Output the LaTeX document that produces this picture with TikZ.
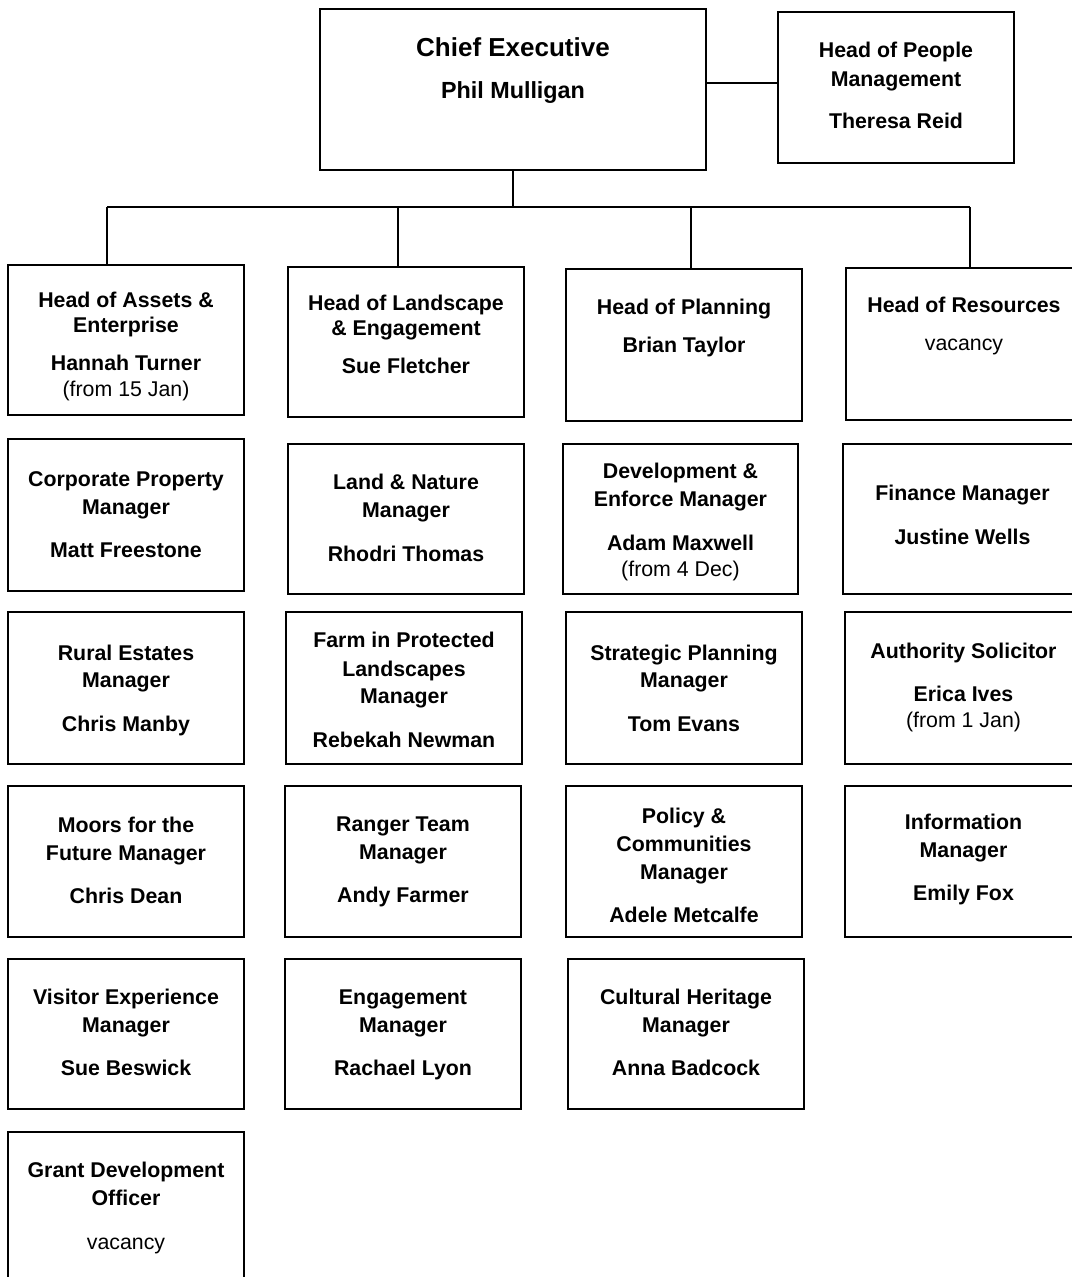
\documentclass[tikz,border=0pt]{standalone}
\usepackage{fontspec}
\setmainfont{Liberation Sans}
\tikzset{
  x=0.75pt, y=-0.75pt,
  orgbox/.style={draw=black, line width=1.1pt, inner sep=0pt, fill=white},
  boxtext/.style={anchor=north, align=center, inner sep=0pt, font=\fontsize{16}{21}\selectfont\bfseries},
  headtext/.style={anchor=north, align=center, inner sep=0pt, font=\fontsize{16}{18.75}\selectfont\bfseries},
  link/.style={draw=black, line width=1.1pt}
}
% name, x1, y1, x2, y2
\newcommand\orgframe[5]{%
  \node[orgbox, minimum width={(#4-#2)*0.75pt}, minimum height={(#5-#3)*0.75pt}]
    (#1) at ({(#2+#4)/2},{(#3+#5)/2}) {};}
% name, style, y top, text
\newcommand\orglabel[4]{%
  \node[#2] (#1-t) at ($(#1.north)+(0,#3)$) {#4};}
\usetikzlibrary{calc}
\begin{document}
\begin{tikzpicture}
\useasboundingbox (0,0) rectangle (1071,1277);
\fill[white] (0,0) rectangle (1071,1277);

% top
\orgframe{ceo}{320}{9}{706}{170}
\node[anchor=north, inner sep=0pt, font=\fontsize{19.5}{23}\selectfont\bfseries] (ceo-t) at ($(ceo.north)+(0,29)$) {Chief Executive};
\node[anchor=north, inner sep=0pt, font=\fontsize{17.5}{21}\selectfont\bfseries] (ceo-n) at ($(ceo.north)+(0,73)$) {Phil Mulligan};
\orgframe{hop}{778}{12}{1014}{163}
\node[anchor=north, align=center, inner sep=0pt, font=\fontsize{16}{21.75}\selectfont\bfseries] (hop-t) at ($(hop.north)+(0,31)$) {Head of People\\Management\\[9.75pt]Theresa Reid};

% heads
\orgframe{a1}{8}{265}{244}{415}
\orglabel{a1}{headtext}{28}{Head of Assets \&\\Enterprise\\[9.75pt]Hannah Turner\\[0.75pt]{\mdseries (from 15 Jan)}}
\orgframe{b1}{288}{267}{524}{417}
\orglabel{b1}{headtext}{29}{Head of Landscape\\\& Engagement\\[9.75pt]Sue Fletcher}
\orgframe{c1}{566}{269}{802}{421}
\orglabel{c1}{headtext}{31}{Head of Planning\\[9.75pt]Brian Taylor}
\orgframe{d1}{846}{268}{1082}{420}
\orglabel{d1}{headtext}{30}{Head of Resources\\[9.75pt]{\mdseries vacancy}}

% row 2
\orgframe{a2}{8}{439}{244}{591}
\orglabel{a2}{boxtext}{33}{Corporate Property\\Manager\\[11.5pt]Matt Freestone}
\orgframe{b2}{288}{444}{524}{594}
\orglabel{b2}{boxtext}{31}{Land \& Nature\\Manager\\[11.5pt]Rhodri Thomas}
\orgframe{c2}{563}{444}{798}{594}
\orglabel{c2}{boxtext}{20}{Development \&\\Enforce Manager\\[11.5pt]Adam Maxwell\\[-1.5pt]{\mdseries (from 4 Dec)}}
\orgframe{d2}{843}{444}{1082}{594}
\orglabel{d2}{boxtext}{42}{Finance Manager\\[11.5pt]Justine Wells}

% row 3
\orgframe{a3}{8}{612}{244}{764}
\orglabel{a3}{boxtext}{33}{Rural Estates\\Manager\\[11.5pt]Chris Manby}
\orgframe{b3}{286}{612}{522}{764}
\orglabel{b3}{boxtext}{21}{Farm in Protected\\Landscapes\\Manager\\[11.5pt]Rebekah Newman}
\orgframe{c3}{566}{612}{802}{764}
\orglabel{c3}{boxtext}{33}{Strategic Planning\\Manager\\[11.5pt]Tom Evans}
\orgframe{d3}{845}{612}{1082}{764}
\orglabel{d3}{boxtext}{32}{Authority Solicitor\\[11pt]Erica Ives\\[-1.5pt]{\mdseries (from 1 Jan)}}

% row 4
\orgframe{a4}{8}{786}{244}{937}
\orglabel{a4}{boxtext}{31}{Moors for the\\Future Manager\\[11.5pt]Chris Dean}
\orgframe{b4}{285}{786}{521}{937}
\orglabel{b4}{boxtext}{31}{Ranger Team\\Manager\\[11.5pt]Andy Farmer}
\orgframe{c4}{566}{786}{802}{937}
\orglabel{c4}{boxtext}{22}{Policy \&\\Communities\\Manager\\[11.5pt]Adele Metcalfe}
\orgframe{d4}{845}{786}{1082}{937}
\orglabel{d4}{boxtext}{28}{Information\\Manager\\[11.5pt]Emily Fox}

% row 5
\orgframe{a5}{8}{959}{244}{1109}
\orglabel{a5}{boxtext}{30}{Visitor Experience\\Manager\\[11.5pt]Sue Beswick}
\orgframe{b5}{285}{959}{521}{1109}
\orglabel{b5}{boxtext}{31}{Engagement\\Manager\\[11.5pt]Rachael Lyon}
\orgframe{c5}{568}{959}{804}{1109}
\orglabel{c5}{boxtext}{30}{Cultural Heritage\\Manager\\[11.5pt]Anna Badcock}

% row 6
\orgframe{a6}{8}{1132}{244}{1292}
\orglabel{a6}{boxtext}{30}{Grant Development\\Officer\\[12pt]{\mdseries vacancy}}

% connectors
\coordinate (side) at (740,83);
\coordinate (bus-a) at (107,207);
\coordinate (bus-b) at (398,207);
\coordinate (bus-c) at (691,207);
\coordinate (bus-d) at (970,207);
\path[link] (ceo.east |- side) -- (hop.west |- side);
\path[link] (ceo.south) -- (ceo.south |- bus-a);
\path[link] (bus-a) -- (bus-d);
\path[link] (bus-a) -- (a1.north -| bus-a);
\path[link] (bus-b) -- (b1.north -| bus-b);
\path[link] (bus-c) -- (c1.north -| bus-c);
\path[link] (bus-d) -- (d1.north -| bus-d);
\end{tikzpicture}
\end{document}
